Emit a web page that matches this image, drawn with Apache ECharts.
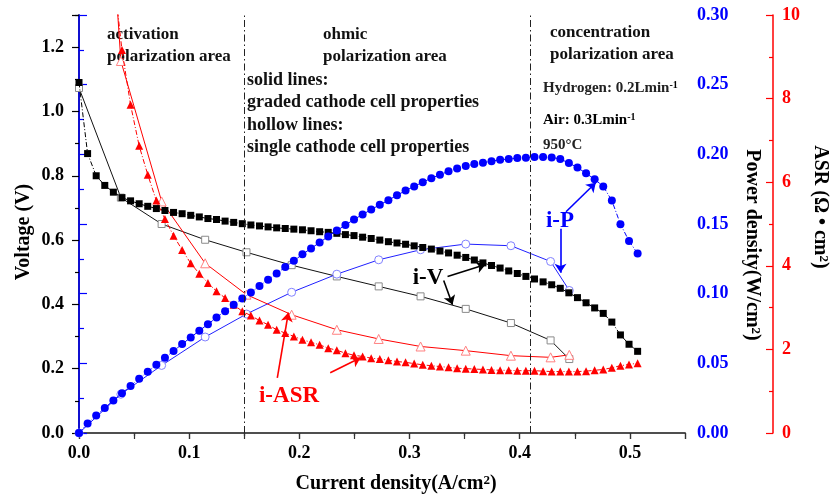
<!DOCTYPE html>
<html><head><meta charset="utf-8">
<script src="https://cdn.jsdelivr.net/npm/echarts@6/dist/echarts.min.js"></script>
<style>html,body{margin:0;padding:0;background:#fff}#c{width:832px;height:498px}</style>
</head><body><div id="c"></div>
<script>
// ---- data ----
const gradedCurrent = [0,0.0078,0.0156,0.0234,0.0312,0.039,0.0468,0.0546,0.0624,0.0702,0.078,0.0858,0.0936,0.1014,0.1092,0.117,0.1248,0.1326,0.1404,0.1482,0.156,0.1638,0.1716,0.1794,0.1872,0.195,0.2028,0.2106,0.2184,0.2262,0.234,0.2418,0.2496,0.2574,0.2652,0.273,0.2808,0.2886,0.2964,0.3042,0.312,0.3198,0.3276,0.3354,0.3432,0.351,0.3588,0.3666,0.3744,0.3822,0.39,0.3978,0.4056,0.4134,0.4212,0.429,0.4368,0.4446,0.4524,0.4602,0.468,0.4758,0.4836,0.4914,0.4992,0.507];
const gradedVoltage = [1.090,0.869,0.800,0.770,0.749,0.732,0.722,0.713,0.705,0.698,0.692,0.686,0.682,0.677,0.672,0.667,0.664,0.659,0.655,0.651,0.647,0.644,0.641,0.638,0.636,0.634,0.632,0.629,0.626,0.624,0.621,0.617,0.614,0.609,0.605,0.600,0.595,0.591,0.587,0.582,0.577,0.572,0.566,0.560,0.553,0.546,0.538,0.529,0.521,0.513,0.504,0.496,0.487,0.479,0.470,0.461,0.450,0.436,0.421,0.405,0.389,0.372,0.345,0.305,0.276,0.254];
const gradedPower = [0,0.0068,0.0125,0.0180,0.0234,0.0285,0.0338,0.0389,0.0440,0.0490,0.0540,0.0589,0.0638,0.0686,0.0734,0.0780,0.0829,0.0874,0.0920,0.0965,0.1009,0.1055,0.1100,0.1145,0.1191,0.1236,0.1282,0.1325,0.1367,0.1411,0.1453,0.1492,0.1533,0.1568,0.1604,0.1638,0.1671,0.1706,0.1740,0.1770,0.1800,0.1829,0.1854,0.1878,0.1898,0.1916,0.1930,0.1939,0.1951,0.1961,0.1966,0.1973,0.1975,0.1980,0.1980,0.1978,0.1966,0.1938,0.1905,0.1864,0.1821,0.1770,0.1668,0.1499,0.1378,0.1288];
const gradedASR = [null,null,null,13.9,11.0,9.16,7.85,6.87,6.18,5.56,5.12,4.72,4.38,4.06,3.81,3.59,3.39,3.23,3.07,2.91,2.81,2.69,2.59,2.47,2.39,2.31,2.23,2.17,2.11,2.03,1.98,1.91,1.86,1.83,1.79,1.77,1.74,1.71,1.69,1.66,1.63,1.61,1.59,1.57,1.55,1.54,1.53,1.52,1.51,1.50,1.50,1.49,1.49,1.49,1.48,1.47,1.47,1.47,1.47,1.48,1.50,1.52,1.56,1.61,1.64,1.67];

const singleCurrent = [0,0.038,0.075,0.1145,0.152,0.193,0.234,0.272,0.310,0.351,0.392,0.428,0.445];
const singleVoltage = [1.073,0.732,0.650,0.601,0.562,0.522,0.487,0.456,0.425,0.386,0.342,0.288,0.230];
const singlePower = [0,0.0278,0.0485,0.0689,0.0854,0.101,0.114,0.1243,0.1315,0.1356,0.1344,0.1231,0.1023];
const singleASRCurrent = [0.025,0.038,0.075,0.1145,0.152,0.193,0.234,0.272,0.310,0.351,0.392,0.428,0.445];
const singleASR = [14,8.9,5.54,4.06,3.31,2.83,2.47,2.25,2.07,1.97,1.85,1.81,1.87];

const currentTicks = ['0.0','0.1','0.2','0.3','0.4','0.5'];
const voltageTicks = ['0.0','0.2','0.4','0.6','0.8','1.0','1.2'];
const powerTicks = ['0.00','0.05','0.10','0.15','0.20','0.25','0.30'];
const asrTicks = ['0','2','4','6','8','10'];

// ---- helpers ----
const FONT = '"Liberation Serif","Times New Roman",serif';
const zip = (xs, ys) => xs.map((x, i) => [x, ys[i]]).filter(p => p[1] != null);
const fromList = list => v => { const t = list.find(s => Math.abs(parseFloat(s) - v) < 1e-6); return t === undefined ? '' : t; };
const BLUE = '#0000ff', RED = '#ff0000';
const lbl = (color, margin, list) => ({ margin, fontFamily: FONT, fontWeight: 'bold', fontSize: 18, color, formatter: fromList(list), showMaxLabel: true, showMinLabel: true });

const chart = echarts.init(document.getElementById('c'), null, { renderer: 'canvas' });

const option = {
  animation: false,
  grid: { left: 79, right: 147, top: 15, bottom: 65 },
  xAxis: [
    { type: 'value', position: 'bottom', min: 0, max: 0.55, interval: 0.1,
      axisLine: { show: true, lineStyle: { color: '#000', width: 1.5 } },
      axisTick: { show: true, length: 6, lineStyle: { color: '#000', width: 1.2 } },
      minorTick: { show: true, splitNumber: 2, length: 3, lineStyle: { color: '#000', width: 1.2 } },
      splitLine: { show: false }, minorSplitLine: { show: false },
      axisLabel: lbl('#000', 11, currentTicks) },
    { type: 'value', position: 'top', min: 0, max: 0.55, interval: 0.05, gridIndex: 0,
      axisLine: { show: true, lineStyle: { color: '#555', width: 1.5 } },
      axisTick: { show: true, inside: true, length: 6, lineStyle: { color: '#333', width: 1.2 } },
      axisLabel: { show: false }, splitLine: { show: false } }
  ],
  yAxis: [
    { type: 'value', position: 'left', min: 0, max: 1.3, interval: 0.2,
      axisLine: { show: true, lineStyle: { color: '#000', width: 1.5 } },
      axisTick: { show: true, length: 7, lineStyle: { color: '#000', width: 1.2 } },
      minorTick: { show: true, splitNumber: 2, length: 4, lineStyle: { color: '#000', width: 1.2 } },
      splitLine: { show: false },
      axisLabel: lbl('#000', 15, voltageTicks) },
    { type: 'value', position: 'right', min: 0, max: 0.30, interval: 0.05,
      axisLine: { show: true, lineStyle: { color: BLUE, width: 1.5 } },
      axisTick: { show: true, length: 8, lineStyle: { color: BLUE, width: 1.2 } },
      minorTick: { show: true, splitNumber: 2, length: 5, lineStyle: { color: BLUE, width: 1.2 } },
      splitLine: { show: false },
      axisLabel: lbl(BLUE, 12, powerTicks) },
    { type: 'value', position: 'right', offset: 88, min: 0, max: 10, interval: 2,
      axisLine: { show: true, lineStyle: { color: RED, width: 1.5 } },
      axisTick: { show: true, inside: true, length: 7, lineStyle: { color: RED, width: 1.2 } },
      minorTick: { show: true, splitNumber: 2, length: 4, lineStyle: { color: RED, width: 1.2 } },
      splitLine: { show: false },
      axisLabel: lbl(RED, 9, asrTicks) }
  ],
  series: [
    { name: 'single V', type: 'line', xAxisIndex: 0, yAxisIndex: 0, silent: true, z: 2,
      data: zip(singleCurrent, singleVoltage), symbol: 'rect', symbolSize: 7,
      itemStyle: { color: '#fff', borderColor: '#8a8a8a', borderWidth: 1 },
      lineStyle: { color: '#111', width: 1 },
      markLine: { silent: true, symbol: ['none', 'arrow'], symbolSize: 9, label: { show: false },
        lineStyle: { color: '#000', width: 1.6, type: 'solid' },
        data: [ [ { coord: [0.3345, 0.487] }, { coord: [0.369, 0.524] } ],
                [ { coord: [0.331, 0.474] }, { coord: [0.339, 0.399] } ] ] } },
    { name: 'single P', type: 'line', xAxisIndex: 0, yAxisIndex: 1, silent: true, z: 2,
      data: zip(singleCurrent, singlePower), symbol: 'circle', symbolSize: 8,
      itemStyle: { color: '#fff', borderColor: '#8080ff', borderWidth: 1 },
      lineStyle: { color: '#2020ff', width: 1 },
      markLine: { silent: true, symbol: ['none', 'arrow'], symbolSize: 9, label: { show: false },
        lineStyle: { color: BLUE, width: 1.6, type: 'solid' },
        data: [ [ { coord: [0.442, 0.1588] }, { coord: [0.469, 0.1796] } ],
                [ { coord: [0.437, 0.1466] }, { coord: [0.437, 0.115] } ] ] } },
    { name: 'single ASR', type: 'line', xAxisIndex: 0, yAxisIndex: 2, silent: true, z: 2,
      data: zip(singleASRCurrent, singleASR), symbol: 'triangle', symbolSize: 9,
      itemStyle: { color: '#fff', borderColor: '#ff8080', borderWidth: 1 },
      lineStyle: { color: RED, width: 1 },
      markLine: { silent: true, symbol: ['none', 'arrow'], symbolSize: 9, label: { show: false },
        lineStyle: { color: RED, width: 1.6, type: 'solid' },
        data: [ [ { coord: [0.18, 1.32] }, { coord: [0.19, 2.88] } ],
                [ { coord: [0.228, 1.44] }, { coord: [0.2555, 1.80] } ] ] } },
    { name: 'graded V', type: 'line', xAxisIndex: 0, yAxisIndex: 0, silent: true, z: 3,
      data: zip(gradedCurrent, gradedVoltage), symbol: 'rect', symbolSize: 7,
      itemStyle: { color: '#000' },
      lineStyle: { color: '#000', width: 1, type: [5, 2, 1, 2] },
      markLine: { silent: true, symbol: ['none', 'none'], label: { show: false },
        lineStyle: { color: '#222', width: 1, type: [7, 3, 1.5, 3] },
        data: [ { xAxis: 0.146 }, { xAxis: 0.412 } ] } },
    { name: 'graded P', type: 'line', xAxisIndex: 0, yAxisIndex: 1, silent: true, z: 4,
      data: zip(gradedCurrent, gradedPower), symbol: 'circle', symbolSize: 8,
      itemStyle: { color: BLUE },
      lineStyle: { color: BLUE, width: 1, type: [5, 2, 1, 2] } },
    { name: 'graded ASR', type: 'line', xAxisIndex: 0, yAxisIndex: 2, silent: true, z: 3,
      data: zip(gradedCurrent, gradedASR), symbol: 'triangle', symbolSize: 8,
      itemStyle: { color: RED },
      lineStyle: { color: RED, width: 1, type: [5, 2, 1, 2] } }
  ],
  graphic: [
    { type: 'text', x: 107, y: 24, silent: true, style: { text: 'activation\npolarization area', font: 'bold 17px ' + FONT, fill: '#111', lineHeight: 22, verticalAlign: 'top' } },
    { type: 'text', x: 323, y: 24, silent: true, style: { text: 'ohmic\npolarization area', font: 'bold 17px ' + FONT, fill: '#111', lineHeight: 22, verticalAlign: 'top' } },
    { type: 'text', x: 550, y: 22, silent: true, style: { text: 'concentration\npolarization area', font: 'bold 17px ' + FONT, fill: '#111', lineHeight: 22, verticalAlign: 'top' } },
    { type: 'text', x: 247, y: 69, silent: true, style: { text: 'solid lines:\ngraded cathode cell properties\nhollow lines:\nsingle cathode cell properties', font: 'bold 18px ' + FONT, fill: '#111', lineHeight: 22.4, verticalAlign: 'top' } },
    { type: 'text', x: 543, y: 88, silent: true, style: { text: '{a|Hydrogen: 0.2Lmin}{s|-1}', verticalAlign: 'middle',
        rich: { a: { fontFamily: FONT, fontWeight: 'bold', fontSize: 15, fill: '#222', color: '#222' }, s: { fontFamily: FONT, fontWeight: 'bold', fontSize: 10, color: '#222', verticalAlign: 'top' } } } },
    { type: 'text', x: 543, y: 120, silent: true, style: { text: '{a|Air: 0.3Lmin}{s|-1}', verticalAlign: 'middle',
        rich: { a: { fontFamily: FONT, fontWeight: 'bold', fontSize: 15, color: '#222' }, s: { fontFamily: FONT, fontWeight: 'bold', fontSize: 10, color: '#222', verticalAlign: 'top' } } } },
    { type: 'text', x: 543, y: 145, silent: true, style: { text: '950°C', font: 'bold 15px ' + FONT, fill: '#222', verticalAlign: 'middle' } },
    { type: 'text', x: 428, y: 278, silent: true, style: { text: 'i-V', font: 'bold 23px ' + FONT, fill: '#000', align: 'center', verticalAlign: 'middle' } },
    { type: 'text', x: 560, y: 221, silent: true, style: { text: 'i-P', font: 'bold 23px ' + FONT, fill: BLUE, align: 'center', verticalAlign: 'middle' } },
    { type: 'text', x: 289, y: 396, silent: true, style: { text: 'i-ASR', font: 'bold 23px ' + FONT, fill: RED, align: 'center', verticalAlign: 'middle' } },
    { type: 'text', x: 24, y: 232, rotation: Math.PI / 2, silent: true, style: { text: 'Voltage (V)', font: 'bold 20px ' + FONT, fill: '#000', align: 'center', verticalAlign: 'middle' } },
    { type: 'text', x: 396, y: 484, silent: true, style: { text: '{a|Current density(A/cm}{s|2}{a|)}', align: 'center', verticalAlign: 'middle',
        rich: { a: { fontFamily: FONT, fontWeight: 'bold', fontSize: 20, color: '#000' }, s: { fontFamily: FONT, fontWeight: 'bold', fontSize: 13, color: '#000', verticalAlign: 'top' } } } },
    { type: 'text', x: 752, y: 245, rotation: -Math.PI / 2, silent: true, style: { text: '{a|Power density(W/cm}{s|2}{a|)}', align: 'center', verticalAlign: 'middle',
        rich: { a: { fontFamily: FONT, fontWeight: 'bold', fontSize: 20, color: BLUE }, s: { fontFamily: FONT, fontWeight: 'bold', fontSize: 13, color: BLUE, verticalAlign: 'top' } } } },
    { type: 'text', x: 820, y: 207, rotation: -Math.PI / 2, silent: true, style: { text: '{a|ASR (Ω • cm}{s|2}{a|)}', align: 'center', verticalAlign: 'middle',
        rich: { a: { fontFamily: FONT, fontWeight: 'bold', fontSize: 20, color: RED }, s: { fontFamily: FONT, fontWeight: 'bold', fontSize: 13, color: RED, verticalAlign: 'top' } } } }
  ]
};
chart.setOption(option);
</script>
</body></html>
